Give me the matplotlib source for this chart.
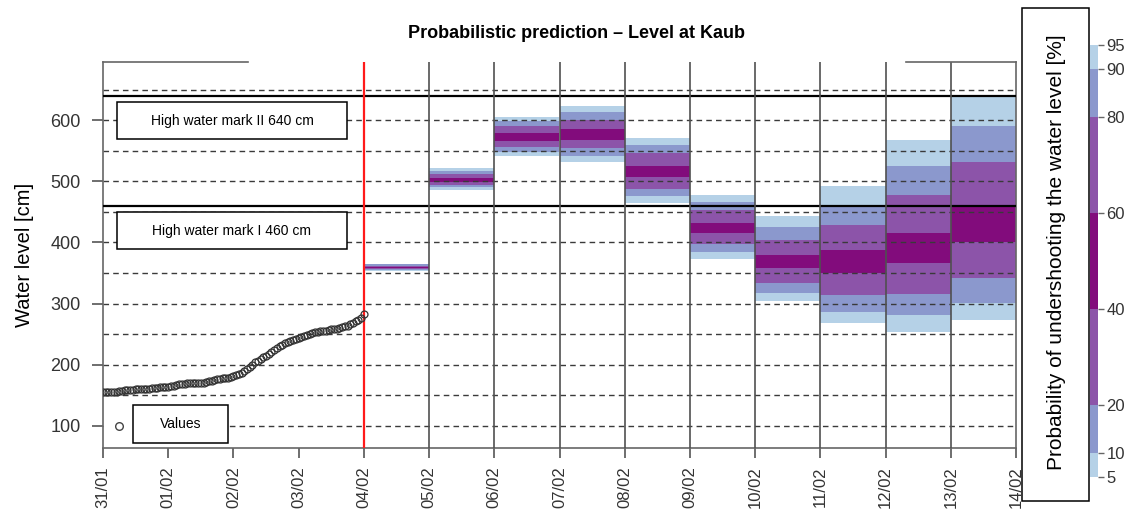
import matplotlib
matplotlib.use("Agg")
import matplotlib.pyplot as plt
from matplotlib.patches import Rectangle
from matplotlib.colors import ListedColormap, BoundaryNorm
from matplotlib.lines import Line2D
import matplotlib.colorbar as mcolorbar

plt.rcParams['font.family'] = ['Liberation Sans', 'DejaVu Sans']

# ---------------- data ----------------
day_labels = ['31/01', '01/02', '02/02', '03/02', '04/02', '05/02', '06/02', '07/02',
              '08/02', '09/02', '10/02', '11/02', '12/02', '13/02', '14/02']

# hourly observed water level [cm], 31/01 00:00 .. 04/02 00:00
observed = [155, 155, 155, 156, 156, 156, 157, 157, 158, 158, 159, 159, 160, 160, 160, 161,
            161, 161, 162, 162, 162, 163, 163, 163, 164,
            165, 166, 167, 168, 169, 169, 170, 170, 170, 170, 170, 171, 171, 172, 173, 174,
            175, 176, 177, 178, 178, 179, 180, 181,
            183, 185, 187, 190, 193, 196, 200, 204, 207, 210, 212, 215, 218, 221, 224, 227,
            230, 232, 235, 237, 239, 241, 243, 244,
            246, 247, 249, 250, 252, 253, 254, 255, 256, 256, 257, 258, 258, 259, 260, 261,
            263, 264, 266, 268, 271, 274, 277, 283]

# forecast days (index into day_labels)
fc_days = [4, 5, 6, 7, 8, 9, 10, 11, 12, 13]
q05 = [354, 486, 541, 532, 465, 373, 304, 268, 254, 273]
q10 = [355, 490, 548, 541, 476, 385, 318, 287, 282, 301]
q20 = [356, 494, 556, 554, 488, 398, 333, 314, 316, 342]
q40 = [358, 499, 566, 567, 507, 415, 359, 350, 366, 401]
q60 = [360, 506, 579, 585, 525, 431, 379, 387, 416, 458]
q80 = [362, 512, 590, 600, 546, 453, 404, 429, 477, 531]
q90 = [364, 517, 598, 614, 559, 466, 425, 460, 525, 591]
q95 = [365, 521, 605, 623, 570, 477, 444, 493, 568, 638]

prob_levels = [5, 10, 20, 40, 60, 80, 90, 95]
band_colors = ['#b5d1e7', '#8b98cd', '#8c54a9', '#820c7c', '#8c54a9', '#8b98cd', '#b5d1e7']

high_water = [640, 460]
high_water_labels = ['High water mark II 640 cm', 'High water mark I 460 cm']
grid_levels = [100, 150, 200, 250, 300, 350, 400, 450, 500, 550, 600, 650]
y_ticks = [100, 200, 300, 400, 500, 600]

# ---------------- figure ----------------
W, H = 1131, 518
fig = plt.figure(figsize=(W / 100, H / 100), dpi=100)
ax = fig.add_axes([103 / W, 1 - 448 / H, (1016 - 103) / W, (448 - 62) / H])

# forecast bands
quants = [q05, q10, q20, q40, q60, q80, q90, q95]
for k in range(len(band_colors)):
    lo = quants[k]
    hi = quants[k + 1]
    ax.bar(fc_days, [h - l for h, l in zip(hi, lo)], bottom=lo, width=1.0, align='edge',
           color=band_colors[k], linewidth=0, zorder=1)

# dashed horizontal grid
for g in grid_levels:
    ax.axhline(g, color='#3a3a3a', lw=1.0, ls=(0, (4, 3)), zorder=2)

# high water marks
for hw in high_water:
    ax.axhline(hw, color='black', lw=1.6, zorder=3)

# vertical day lines in forecast part
for d in fc_days[1:]:
    ax.axvline(d, color='#505050', lw=1.2, zorder=3)
ax.axvline(fc_days[0], color='#ff1a1a', lw=1.6, zorder=4)

# observed values
obs_x = [h / 24 for h in range(len(observed))]
ax.plot(obs_x, observed, ls='none', marker='o', ms=5.0, mfc='none', mec='#333333',
        mew=0.9, zorder=5)

ax.set_xlim(0, 14)
ax.set_ylim(64, 695)
ax.set_xticks(range(len(day_labels)))
ax.set_xticklabels(day_labels, rotation=90, fontsize=12, color='#333333')
ax.set_yticks(y_ticks)
ax.set_yticklabels([str(t) for t in y_ticks], fontsize=13, color='#333333')
ax.tick_params(axis='y', length=8, width=1.2, color='#555555', pad=8)
ax.tick_params(axis='x', length=7, width=1.2, color='#555555', pad=6)
ax.set_ylabel('Water level [cm]', fontsize=14.5, labelpad=12)

for s in ['left', 'bottom', 'right']:
    ax.spines[s].set_color('#666666')
    ax.spines[s].set_linewidth(1.2)
ax.spines['top'].set_visible(False)
# top border, interrupted by the title area
ax.add_line(Line2D([0, (248 - 103) / 913], [1, 1], transform=ax.transAxes, color='#666666',
                   lw=1.2, clip_on=False, zorder=6))
ax.add_line(Line2D([(906 - 103) / 913, 1], [1, 1], transform=ax.transAxes, color='#666666',
                   lw=1.2, clip_on=False, zorder=6))

# legend boxes (axes coordinates)
def to_ax(x0, y0, x1, y1):
    X0, X1 = (x0 - 103) / 913, (x1 - 103) / 913
    Y0, Y1 = (448 - y1) / 386, (448 - y0) / 386
    return X0, Y0, X1, Y1

def box(x0, y0, x1, y1, text):
    X0, Y0, X1, Y1 = to_ax(x0, y0, x1, y1)
    ax.add_patch(Rectangle((X0, Y0), X1 - X0, Y1 - Y0, transform=ax.transAxes,
                           facecolor='white', edgecolor='black', lw=1.1, zorder=7))
    ax.text((X0 + X1) / 2, (Y0 + Y1) / 2, text, transform=ax.transAxes, ha='center',
            va='center', fontsize=10, zorder=8)

box(117, 102, 347, 139, high_water_labels[0])
box(117, 212, 347, 249, high_water_labels[1])
# white legend background for the "Values" entry
X0, Y0, X1, Y1 = to_ax(104, 405, 133, 443)
ax.add_patch(Rectangle((X0, Y0), X1 - X0, Y1 - Y0, transform=ax.transAxes,
                       facecolor='white', edgecolor='none', zorder=6))
box(133, 405, 228, 443, 'Values')
ax.plot([(119 - 103) / 913], [(448 - 426) / 386], transform=ax.transAxes, marker='o',
        ms=5.5, mfc='none', mec='#444444', mew=1.0, ls='none', zorder=8)

# title
fig.text(576 / W, 1 - 33 / H, 'Probabilistic prediction \u2013 Level at Kaub',
         ha='center', va='center', fontsize=13, fontweight='bold',
         family=['Liberation Sans Narrow', 'Liberation Sans', 'DejaVu Sans'])

# colorbar box with label
fig.patches.append(Rectangle((1022 / W, 1 - 501 / H), (1089 - 1022) / W, (501 - 8) / H,
                             transform=fig.transFigure, facecolor='white',
                             edgecolor='black', lw=1.1, zorder=1))
fig.text(1056 / W, 1 - 252 / H, 'Probability of undershooting the water level [%]',
         rotation=90, ha='center', va='center', fontsize=15)

cax = fig.add_axes([1090 / W, 1 - 477 / H, 8 / W, 432 / H])
cmap = ListedColormap(band_colors)
norm = BoundaryNorm(prob_levels, cmap.N)
cb = mcolorbar.ColorbarBase(cax, cmap=cmap, norm=norm, boundaries=prob_levels,
                            ticks=prob_levels, spacing='proportional', orientation='vertical')
cb.outline.set_visible(False)
cax.tick_params(length=4, width=1, color='#666666', labelsize=12, labelcolor='#333333', pad=2)

fig.savefig('out.png', dpi=100)
